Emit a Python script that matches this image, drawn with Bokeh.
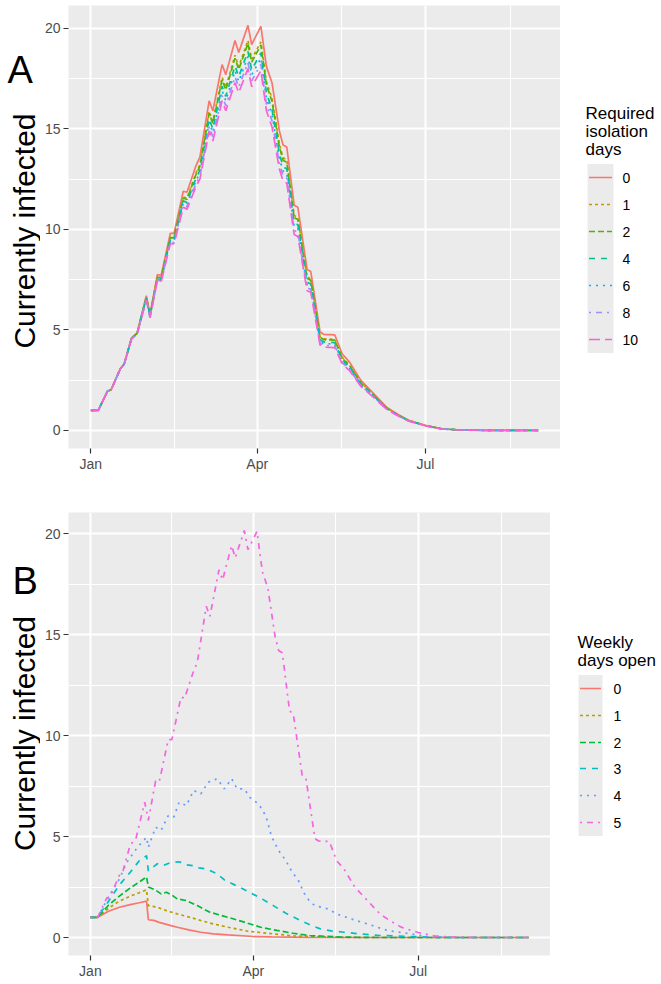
import math
from bokeh.plotting import figure
from bokeh.layouts import column, row
from bokeh.models import Range1d, FixedTicker
from bokeh.embed import file_html
from bokeh.resources import INLINE
from bokeh.core.properties import value

FONT = "Liberation Sans"

# ---------------- shared axis data (days since Jan 1) ----------------
month_ticks = [0, 90, 181]
month_labels = ["Jan", "Apr", "Jul"]
month_minor = [45, 135.5, 227]
y_ticks = [0, 5, 10, 15, 20]
y_minor = [2.5, 7.5, 12.5, 17.5]
y_title = "Currently infected"

# ---------------- Panel A: required isolation days ----------------
a_title = ["Required", "isolation", "days"]
a_levels = ["0", "1", "2", "4", "6", "8", "10"]
a_colors = ["#F8766D", "#C49A00", "#53B400", "#00C094", "#00B6EB", "#A58AFF", "#FB61D7"]
a_dashes = ["solid", "3 3", "6 3", "6 6", "2 5", "2 5 6 5", "11 5"]

a_days = [0, 4, 9, 11, 16, 18, 22, 25, 30, 32, 36, 38, 43, 45, 50, 52, 57, 59, 64, 66,
          71, 73, 78, 80, 85, 87, 92, 95, 98, 102, 104, 106, 110, 112, 117, 119, 124, 126,
          132, 136, 140, 146, 153, 160, 166, 172, 181, 190, 200, 215, 242]
a_iso0 = [1.0, 1.0, 1.95, 2.03, 3.08, 3.3, 4.6, 4.85, 6.7, 5.8, 7.75, 7.7, 9.8, 9.8, 11.9, 11.85,
          13.2, 13.6, 16.4, 15.9, 18.2, 17.7, 19.4, 18.8, 20.15, 19.2, 20.1, 18.1, 17.3, 14.9, 14.2,
          14.1, 11.2, 11.1, 8.0, 7.9, 4.9, 4.78, 4.75, 3.8, 3.4, 2.5, 1.83, 1.16, 0.8, 0.5, 0.25,
          0.08, 0.02, 0.0, 0.0]
a_iso1 = [1.0, 1.0, 1.95, 2.03, 3.08, 3.29, 4.58, 4.83, 6.63, 5.73, 7.65, 7.59, 9.63, 9.62, 11.62,
          11.55, 12.84, 13.22, 15.88, 15.38, 17.57, 17.07, 18.67, 18.1, 19.4, 18.47, 19.33, 17.33,
          16.53, 14.24, 13.57, 13.47, 10.69, 10.59, 7.63, 7.54, 4.67, 4.56, 4.53, 3.63, 3.25, 2.4,
          1.76, 1.12, 0.78, 0.49, 0.24, 0.08, 0.02, 0.0, 0.0]
a_iso2 = [1.0, 1.0, 1.95, 2.03, 3.08, 3.29, 4.58, 4.82, 6.62, 5.72, 7.62, 7.57, 9.59, 9.58, 11.56,
          11.49, 12.76, 13.14, 15.77, 15.27, 17.44, 16.94, 18.52, 17.96, 19.25, 18.32, 19.18, 17.18,
          16.38, 14.1, 13.44, 13.34, 10.59, 10.49, 7.56, 7.47, 4.63, 4.51, 4.49, 3.59, 3.22, 2.37,
          1.75, 1.11, 0.77, 0.48, 0.24, 0.08, 0.02, 0.0, 0.0]
a_iso4 = [1.0, 1.0, 1.95, 2.03, 3.08, 3.29, 4.57, 4.81, 6.58, 5.68, 7.57, 7.51, 9.5, 9.49, 11.42,
          11.34, 12.58, 12.94, 15.5, 15.0, 17.12, 16.62, 18.14, 17.6, 18.86, 17.94, 18.78, 16.78,
          15.98, 13.76, 13.12, 13.02, 10.33, 10.23, 7.37, 7.28, 4.51, 4.4, 4.37, 3.5, 3.14, 2.32,
          1.72, 1.09, 0.76, 0.48, 0.24, 0.07, 0.02, 0.0, 0.0]
a_iso6 = [1.0, 1.0, 1.95, 2.03, 3.08, 3.29, 4.56, 4.8, 6.56, 5.66, 7.53, 7.47, 9.44, 9.43, 11.32,
          11.24, 12.45, 12.81, 15.32, 14.82, 16.9, 16.4, 17.89, 17.36, 18.6, 17.69, 18.52, 16.52,
          15.72, 13.53, 12.9, 12.8, 10.16, 10.06, 7.24, 7.16, 4.43, 4.32, 4.3, 3.44, 3.09, 2.28,
          1.69, 1.08, 0.75, 0.47, 0.24, 0.07, 0.02, 0.0, 0.0]
a_iso8 = [1.0, 1.0, 1.95, 2.03, 3.08, 3.28, 4.56, 4.79, 6.53, 5.63, 7.49, 7.43, 9.37, 9.35, 11.21,
          11.12, 12.31, 12.65, 15.11, 14.61, 16.65, 16.15, 17.59, 17.08, 18.3, 17.39, 18.21, 16.21,
          15.41, 13.27, 12.65, 12.55, 9.95, 9.85, 7.1, 7.01, 4.34, 4.23, 4.21, 3.37, 3.03, 2.24,
          1.67, 1.07, 0.74, 0.47, 0.23, 0.07, 0.02, 0.0, 0.0]
a_iso10 = [1.0, 1.0, 1.95, 2.03, 3.08, 3.28, 4.55, 4.78, 6.5, 5.6, 7.45, 7.38, 9.3, 9.28, 11.1,
           11.0, 12.16, 12.5, 14.9, 14.4, 16.4, 15.9, 17.3, 16.8, 18.0, 17.1, 17.9, 15.9, 15.1,
           13.0, 12.4, 12.3, 9.75, 9.65, 6.95, 6.87, 4.25, 4.14, 4.12, 3.3, 2.97, 2.2, 1.64, 1.05,
           0.73, 0.46, 0.23, 0.07, 0.02, 0.0, 0.0]
a_series = [a_iso0, a_iso1, a_iso2, a_iso4, a_iso6, a_iso8, a_iso10]

# ---------------- Panel B: weekly days open ----------------
b_title = ["Weekly", "days open"]
b_levels = ["0", "1", "2", "3", "4", "5"]
b_colors = ["#F8766D", "#B79F00", "#00BA38", "#00BFC4", "#619CFF", "#F564E3"]
b_dashes = ["solid", "3 3", "6 3", "6 6", "2 5", "2 5 6 5"]

b_days0 = [0, 4, 10, 16, 22, 27, 31, 32, 35, 38, 44, 48, 55, 61, 68, 76, 90, 100, 120, 140, 242]
b_open0 = [1.0, 1.0, 1.3, 1.5, 1.63, 1.72, 1.8, 0.88, 0.85, 0.75, 0.6, 0.51, 0.37, 0.26, 0.18,
           0.13, 0.05, 0.03, 0.01, 0.0, 0.0]
b_days1 = [0, 4, 10, 16, 22, 27, 31, 32, 37, 42, 48, 55, 61, 68, 76, 87, 98, 112, 131, 150, 242]
b_open1 = [1.0, 1.0, 1.45, 1.8, 2.05, 2.22, 2.36, 1.58, 1.5, 1.33, 1.17, 1.0, 0.84, 0.67, 0.51,
           0.31, 0.21, 0.08, 0.02, 0.0, 0.0]
b_days2 = [0, 4, 10, 16, 22, 27, 31, 32, 36, 39, 42, 45, 48, 53, 59, 66, 76, 85, 94, 103, 112,
           121, 139, 160, 242]
b_open2 = [1.0, 1.0, 1.6, 2.05, 2.45, 2.75, 3.0, 2.5, 2.35, 2.16, 2.24, 2.1, 1.91, 1.83, 1.58,
           1.25, 1.0, 0.76, 0.51, 0.35, 0.21, 0.1, 0.02, 0.0, 0.0]
b_days3 = [0, 4, 10, 16, 22, 27, 31, 32, 37, 40, 44, 49, 53, 57, 60, 64, 70, 74, 81, 88, 95, 101,
           108, 116, 122, 127, 133, 140, 149, 160, 177, 190, 200, 242]
b_open3 = [1.0, 1.0, 1.8, 2.6, 3.23, 3.8, 4.05, 3.3, 3.65, 3.56, 3.7, 3.75, 3.6, 3.55, 3.45, 3.4,
           3.15, 2.85, 2.55, 2.24, 1.9, 1.58, 1.2, 0.84, 0.6, 0.43, 0.33, 0.26, 0.18, 0.1, 0.05,
           0.01, 0.0, 0.0]
b_days4 = [0, 4, 10, 16, 20, 26, 31, 32, 36, 39, 43, 46, 49, 53, 57, 61, 65, 70, 74, 78, 81, 85,
           88, 93, 97, 100, 104, 108, 111, 115, 118, 121, 124, 131, 136, 144, 153, 164, 177, 186,
           200, 242]
b_open4 = [1.0, 1.0, 2.0, 2.9, 3.7, 4.47, 4.96, 4.47, 5.46, 5.3, 6.04, 5.96, 6.7, 6.53, 7.28, 7.11,
           7.69, 7.86, 7.36, 7.86, 7.36, 7.36, 6.94, 6.6, 6.0, 5.0, 4.3, 3.8, 3.3, 2.8, 2.2, 1.8,
           1.58, 1.42, 1.17, 0.92, 0.67, 0.35, 0.18, 0.05, 0.0, 0.0]
b_days5 = a_days
b_open5 = a_iso0
b_days = [b_days0, b_days1, b_days2, b_days3, b_days4, b_days5]
b_series = [b_open0, b_open1, b_open2, b_open3, b_open4, b_open5]

LW = 1.7
X_RANGE = (-12.1, 254.1)


def blank_fig(width, top, fh, bottom, x0, frame_top_px):
    """A figure without axes whose data coordinates are page pixels."""
    f = figure(width=width, frame_height=fh, min_border_top=top, min_border_bottom=bottom,
               min_border_left=0, min_border_right=0,
               x_range=Range1d(x0, x0 + width), y_range=Range1d(frame_top_px + fh, frame_top_px),
               x_axis_location=None, y_axis_location=None,
               toolbar_location=None, output_backend="svg")
    f.grid.visible = False
    f.outline_line_color = None
    f.background_fill_color = "white"
    f.border_fill_color = "white"
    return f


def strip_fig(top, fh, bottom, frame_top_px, letter, lx, ly, label_y):
    f = blank_fig(40, top, fh, bottom, 0, frame_top_px)
    f.text(x=[lx], y=[ly], text=[letter], text_font=value(FONT), text_font_size="38px",
           text_baseline="middle", text_align="left", text_color="black")
    f.text(x=[23.5], y=[label_y], text=[y_title], angle=math.pi / 2, text_font=value(FONT),
           text_font_size="30px", text_baseline="middle", text_align="center", text_color="black")
    return f


def main_fig(fw, top, fh, bottom, y_range):
    p = figure(frame_width=fw, frame_height=fh, min_border_left=28, min_border_right=0,
               min_border_top=top, min_border_bottom=bottom,
               x_range=Range1d(*X_RANGE), y_range=Range1d(*y_range),
               toolbar_location=None, output_backend="svg")
    p.background_fill_color = "#EBEBEB"
    p.border_fill_color = "white"
    p.outline_line_color = None
    p.xaxis.ticker = FixedTicker(ticks=month_ticks, minor_ticks=month_minor)
    p.xaxis.major_label_overrides = {t: l for t, l in zip(month_ticks, month_labels)}
    p.yaxis.ticker = FixedTicker(ticks=y_ticks, minor_ticks=y_minor)
    for ax in (p.xaxis[0], p.yaxis[0]):
        ax.axis_line_color = None
        ax.major_tick_line_color = "#333333"
        ax.major_tick_line_width = 1.2
        ax.major_tick_out = 5
        ax.major_tick_in = 0
        ax.minor_tick_line_color = None
        ax.major_label_text_font = FONT
        ax.major_label_text_font_size = "14px"
        ax.major_label_text_color = "#4D4D4D"
    p.xaxis.major_label_standoff = 2
    p.yaxis.major_label_standoff = 3
    for g in (p.xgrid[0], p.ygrid[0]):
        g.grid_line_color = "white"
        g.grid_line_width = 2
        g.minor_grid_line_color = "white"
        g.minor_grid_line_width = 1
    return p


def legend_fig(width, top, fh, bottom, x0, frame_top_px, title_lines, title_ys, title_x,
               levels, colors, dashes, item_ys, key_x0, key_x1, label_x):
    f = blank_fig(width, top, fh, bottom, x0, frame_top_px)
    half = (item_ys[1] - item_ys[0]) / 2
    f.quad(left=[key_x0], right=[key_x1], top=[item_ys[0] - half], bottom=[item_ys[-1] + half],
           fill_color="#EBEBEB", line_color=None)
    for yy, c, d in zip(item_ys, colors, dashes):
        f.line([key_x0 + 1.5, key_x1 - 1.5], [yy, yy], line_color=c, line_dash=d, line_width=LW)
    f.text(x=[label_x] * len(levels), y=item_ys, text=levels, text_font=value(FONT),
           text_font_size="14px", text_baseline="middle", text_align="left", text_color="black")
    f.text(x=[title_x] * len(title_lines), y=title_ys, text=title_lines, text_font=value(FONT),
           text_font_size="17px", text_baseline="middle", text_align="left", text_color="black")
    return f


# ---- Panel A : page rows 0..490, frame 5..448 ----
A_TOP, A_FH, A_BOT = 5, 443, 42
pA = main_fig(492, A_TOP, A_FH, A_BOT, (-0.9, 21.14))
for vals, c, d in zip(a_series, a_colors, a_dashes):
    pA.line(a_days, vals, line_color=c, line_dash=d, line_width=LW)
sA = strip_fig(A_TOP, A_FH, A_BOT, A_TOP, "A", 7, 69, 230.5)
legA = legend_fig(101, A_TOP, A_FH, A_BOT, 560, A_TOP, a_title, [113, 131, 149], 585,
                  a_levels, a_colors, a_dashes, [177, 204, 231, 258, 285, 312, 339], 587, 613, 622)

# ---- Panel B : page rows 490..983, frame 512..955 ----
B_TOP, B_FH, B_BOT = 22, 443, 28
pB = main_fig(482, B_TOP, B_FH, B_BOT, (-0.89, 21.04))
for dd, vals, c, d in zip(b_days, b_series, b_colors, b_dashes):
    pB.line(dd, vals, line_color=c, line_dash=d, line_width=LW)
sB = strip_fig(B_TOP, B_FH, B_BOT, 512, "B", 12, 580, 733)
legB = legend_fig(111, B_TOP, B_FH, B_BOT, 550, 512, b_title, [642, 660], 577,
                  b_levels, b_colors, b_dashes, [688, 715, 742, 768, 795, 822], 578, 602, 613)

layout = column(row(sA, pA, legA), row(sB, pB, legB))
open("out.html", "w").write(file_html(layout, INLINE))
